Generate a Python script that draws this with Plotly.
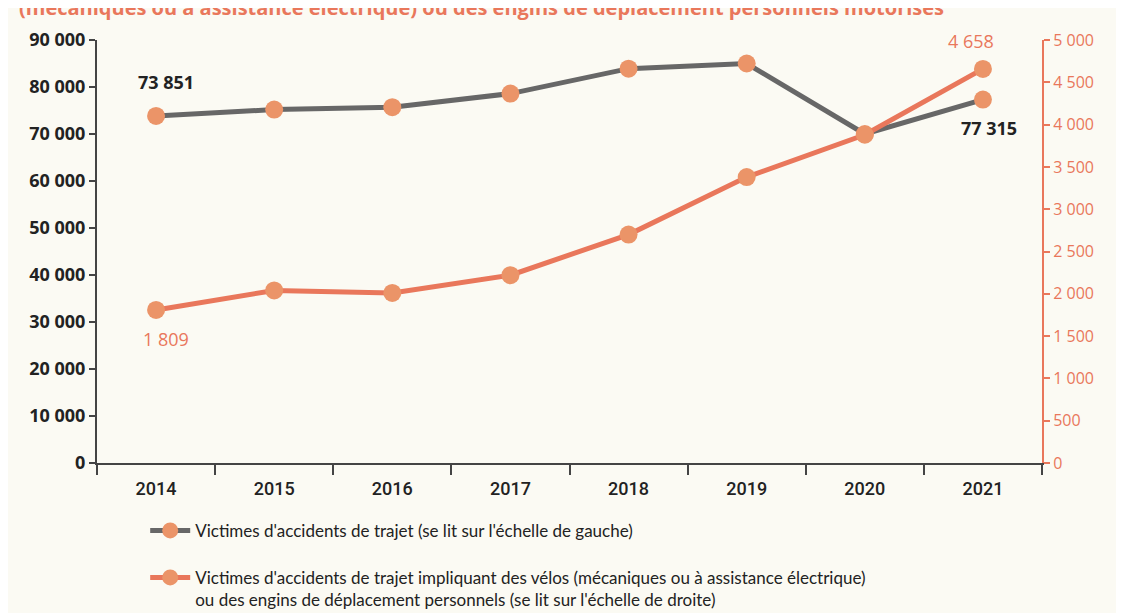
import plotly.graph_objects as go

years = ["2014", "2015", "2016", "2017", "2018", "2019", "2020", "2021"]
victimes_trajet = [73851, 75200, 75700, 78600, 83900, 85000, 70000, 77315]
victimes_velos_edp = [1809, 2040, 2010, 2220, 2700, 3380, 3880, 4658]
left_ticks = [0, 10000, 20000, 30000, 40000, 50000, 60000, 70000, 80000, 90000]
right_ticks = [0, 500, 1000, 1500, 2000, 2500, 3000, 3500, 4000, 4500, 5000]

name_trajet = "Victimes d'accidents de trajet (se lit sur l'échelle de gauche)"
name_velos = ("Victimes d'accidents de trajet impliquant des vélos (mécaniques ou à assistance électrique)"
              "<br>ou des engins de déplacement personnels (se lit sur l'échelle de droite)")
title_fragment = "(mécaniques ou à assistance électrique) ou des engins de déplacement personnels motorisés"

GRAY = "#676767"
ORANGE = "#e9775b"
DOT = "#eb9468"
DARK = "#222222"
BG = "#fbfaf3"

def fr(v):
    return f"{v:,}".replace(",", " ")

fig = go.Figure()
fig.add_trace(go.Scatter(
    x=years, y=victimes_trajet, name=name_trajet, mode="lines+markers", legend="legend",
    line=dict(color=GRAY, width=5), marker=dict(color=DOT, size=18),
    yaxis="y", cliponaxis=False))
fig.add_trace(go.Scatter(
    x=years, y=victimes_velos_edp, name=name_velos, mode="lines+markers", legend="legend2",
    line=dict(color=ORANGE, width=5), marker=dict(color=DOT, size=18),
    yaxis="y2", cliponaxis=False))

first, last = 0, len(years) - 1
bold = dict(color=DARK, size=18, family="Open Sans", weight=700)
orng = dict(color=ORANGE, size=18, family="Open Sans")
annotations = [
    dict(x=first, y=victimes_trajet[first], xref="x", yref="y", text=fr(victimes_trajet[first]),
         showarrow=False, xshift=10, yshift=34, font=bold),
    dict(x=last, y=victimes_trajet[last], xref="x", yref="y", text=fr(victimes_trajet[last]),
         showarrow=False, xshift=36, yshift=-28, xanchor="right", font=bold),
    dict(x=last, y=victimes_velos_edp[last], xref="x", yref="y2", text=fr(victimes_velos_edp[last]),
         showarrow=False, xshift=-12, yshift=28, font=orng),
    dict(x=first, y=victimes_velos_edp[first], xref="x", yref="y2", text=fr(victimes_velos_edp[first]),
         showarrow=False, xshift=10, yshift=-29, font=orng),
    dict(x=-0.085, y=1.0 + 33 / 423, xref="paper", yref="paper", text=title_fragment,
         showarrow=False, xanchor="left", yanchor="middle",
         font=dict(color=ORANGE, size=20, family="Open Sans", weight=700)),
]

legend_common = dict(xanchor="left", yanchor="top", orientation="v",
                     font=dict(family="Lato", size=17, color=DARK), bgcolor="rgba(0,0,0,0)",
                     valign="top", itemwidth=40)

fig.update_layout(
    width=1124, height=625,
    margin=dict(l=89, r=90, t=32, b=170),
    paper_bgcolor=BG, plot_bgcolor=BG,
    separators=", ",
    showlegend=True,
    legend=dict(x=0.051, y=-0.118, **legend_common),
    legend2=dict(x=0.051, y=-0.229, **legend_common),
    xaxis=dict(type="category", range=[-0.5, 7.5], showgrid=False, showline=True,
               linecolor="#444444", linewidth=2, ticks="outside", tickson="boundaries",
               ticklen=10, tickwidth=1.5, tickcolor="#444444", ticklabelstandoff=8,
               tickfont=dict(family="Roboto", size=18, color=DARK, weight=500), zeroline=False),
    yaxis=dict(range=[0, 90000], tickvals=left_ticks, tickformat=",d", showgrid=False,
               showline=True, linecolor="#444444", linewidth=2, ticks="outside",
               ticklen=6, tickwidth=1.5, tickcolor="#444444", zeroline=False,
               tickfont=dict(family="Open Sans", size=18, color=DARK, weight=700)),
    yaxis2=dict(range=[0, 5000], tickvals=right_ticks, tickformat=",d", overlaying="y",
                side="right", showgrid=False, showline=True, linecolor=ORANGE, linewidth=2,
                ticks="outside", ticklen=6, tickwidth=1.5, tickcolor=ORANGE, zeroline=False,
                tickfont=dict(family="Open Sans", size=16, color=ORANGE)),
    annotations=annotations,
)

fig.write_html("out.html")
